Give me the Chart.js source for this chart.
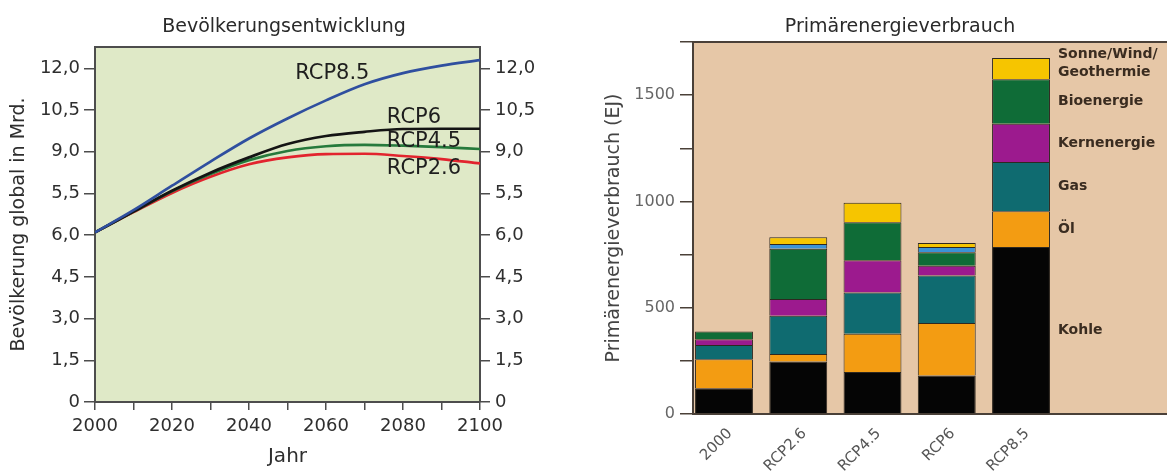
<!DOCTYPE html>
<html>
<head>
<meta charset="utf-8">
<script src="https://cdn.jsdelivr.net/npm/chart.js@4.4.1/dist/chart.umd.min.js"></script>
<style>
  body { margin: 0; background: #fff; width: 1167px; height: 473px; overflow: hidden; position: relative; }
  #popBox { position: absolute; left: 0; top: 0; width: 560px; height: 473px; }
  #energyBox { position: absolute; left: 560px; top: 0; width: 607px; height: 473px; }
</style>
</head>
<body>
<div id="popBox"><canvas id="popChart" width="560" height="473"></canvas></div>
<div id="energyBox"><canvas id="energyChart" width="607" height="473"></canvas></div>
<script>
// Bevölkerung (Mrd.) je Szenario
const years = [2000, 2010, 2020, 2030, 2040, 2050, 2060, 2070, 2080, 2090, 2100];
const rcp85 = [6.1, 6.9, 7.78, 8.65, 9.48, 10.2, 10.85, 11.43, 11.83, 12.1, 12.3];
const rcp6 = [6.1, 6.85, 7.6, 8.25, 8.8, 9.28, 9.57, 9.72, 9.82, 9.83, 9.83];
const rcp45 = [6.1, 6.85, 7.58, 8.2, 8.7, 9.03, 9.2, 9.25, 9.22, 9.17, 9.1];
const rcp26 = [6.1, 6.83, 7.52, 8.1, 8.55, 8.8, 8.92, 8.93, 8.85, 8.74, 8.58];
const popTickLabels = ['0', '1,5', '3,0', '4,5', '6,0', '5,5', '9,0', '10,5', '12,0'];
const curveNames = ['RCP8.5', 'RCP6', 'RCP4.5', 'RCP2.6'];
const curveNameYear = [2052, 2075.8, 2075.8, 2075.8];
const curveNameValue = [11.8, 10.22, 9.37, 8.4];

// Primärenergieverbrauch (EJ)
const scenarios = ['2000', 'RCP2.6', 'RCP4.5', 'RCP6', 'RCP8.5'];
const kohle = [121, 247, 197, 181, 786];
const oel = [137, 35, 180, 247, 168];
const gas = [67, 180, 195, 223, 231];
const kern = [27, 79, 151, 47, 181];
const bio = [36, 236, 179, 63, 209];
const wasser = [null, 23, null, 25, null];
const sonne = [null, 32, 92, 19, 100];
const sourceNames = ['Kohle', 'Öl', 'Gas', 'Kernenergie', 'Bioenergie', 'Wasserkraft', 'Sonne/Wind/Geothermie'];
const sideLabels = [['Kohle'], ['Öl'], ['Gas'], ['Kernenergie'], ['Bioenergie'], [], ['Sonne/Wind/', 'Geothermie']];

Chart.defaults.font.family = "'DejaVu Sans', sans-serif";
Chart.defaults.animation = false;
Chart.defaults.plugins.legend.display = false;
Chart.defaults.plugins.tooltip.enabled = false;

function keepSteps(step) {
  return scale => {
    scale.ticks = scale.ticks.filter(t => Math.abs(t.value / step - Math.round(t.value / step)) < 0.001);
  };
}

function popLabel(v) {
  const i = Math.round(v / 1.5);
  return Math.abs(v - i * 1.5) < 0.01 ? popTickLabels[i] : '';
}

// background, top border line and title
const plotFrame = {
  id: 'plotFrame',
  beforeDraw(chart, args, opts) {
    const { ctx, chartArea: a } = chart;
    const right = opts.toEdge ? chart.width : a.right;
    ctx.save();
    ctx.fillStyle = opts.fill;
    ctx.fillRect(a.left, a.top, right - a.left, a.bottom - a.top);
    ctx.strokeStyle = opts.line;
    ctx.lineWidth = 2;
    ctx.beginPath();
    ctx.moveTo(a.left, a.top);
    ctx.lineTo(right, a.top);
    ctx.stroke();
    ctx.restore();
  },
  afterDraw(chart, args, opts) {
    const ctx = chart.ctx;
    ctx.save();
    ctx.fillStyle = '#2a2a2a';
    ctx.font = "19px 'DejaVu Sans', sans-serif";
    ctx.textAlign = 'center';
    ctx.textBaseline = 'middle';
    ctx.fillText(opts.title, opts.titleX, 27);
    ctx.restore();
  }
};

const curveLabels = {
  id: 'curveLabels',
  afterDatasetsDraw(chart) {
    const { ctx, scales } = chart;
    ctx.save();
    ctx.fillStyle = '#1e1e1e';
    ctx.font = "21px 'DejaVu Sans', sans-serif";
    ctx.textAlign = 'left';
    ctx.textBaseline = 'middle';
    curveNames.forEach((name, i) => {
      ctx.fillText(name, scales.x.getPixelForValue(curveNameYear[i]), scales.y.getPixelForValue(curveNameValue[i]));
    });
    ctx.restore();
  }
};

const sideText = {
  id: 'sideText',
  afterDatasetsDraw(chart) {
    const ctx = chart.ctx;
    ctx.save();
    ctx.fillStyle = '#3a2c20';
    ctx.font = "bold 14px 'DejaVu Sans', sans-serif";
    ctx.textAlign = 'left';
    ctx.textBaseline = 'middle';
    sideLabels.forEach((lines, i) => {
      const bar = chart.getDatasetMeta(i).data[scenarios.length - 1];
      if (!lines.length || !bar || isNaN(bar.y)) return;
      const mid = (bar.y + bar.base) / 2 - (lines.length - 1) * 14;
      lines.forEach((t, k) => ctx.fillText(t, bar.x + bar.width / 2 + 8, mid + k * 18));
    });
    ctx.restore();
  }
};

const toPoints = arr => arr.map((v, i) => ({ x: years[i], y: v }));
const lineStyle = { pointRadius: 0, borderWidth: 2.7, cubicInterpolationMode: 'monotone', fill: false };

new Chart(document.getElementById('popChart'), {
  type: 'line',
  data: {
    datasets: [
      { label: 'RCP8.5', data: toPoints(rcp85), borderColor: '#2f4f9f', ...lineStyle },
      { label: 'RCP6', data: toPoints(rcp6), borderColor: '#141414', ...lineStyle },
      { label: 'RCP4.5', data: toPoints(rcp45), borderColor: '#267a3c', ...lineStyle },
      { label: 'RCP2.6', data: toPoints(rcp26), borderColor: '#e2242e', ...lineStyle }
    ]
  },
  options: {
    responsive: false,
    layout: { padding: { top: 47, left: 0, right: 0, bottom: 0 } },
    scales: {
      x: {
        type: 'linear', min: 2000, max: 2100,
        afterFit: s => { s.height = 71; },
        afterBuildTicks: keepSteps(10),
        ticks: { stepSize: 10, autoSkip: false, maxRotation: 0, color: '#2e2e2e', font: { size: 18 }, padding: 6,
          callback: v => v % 20 === 0 ? String(v) : '' },
        grid: { drawOnChartArea: false, tickLength: 8, color: '#4d4d4d', lineWidth: 1.5 },
        border: { color: '#4d4d4d', width: 2 },
        title: { display: true, text: 'Jahr', color: '#2e2e2e', font: { size: 20 }, padding: { top: 0, bottom: 4 } }
      },
      y: {
        min: 0, max: 12.77,
        afterFit: s => { s.width = 95; },
        afterBuildTicks: keepSteps(1.5),
        ticks: { stepSize: 1.5, autoSkip: false, color: '#2e2e2e', font: { size: 18 }, padding: 4, callback: popLabel },
        grid: { drawOnChartArea: false, tickLength: 11, color: '#4d4d4d', lineWidth: 1.5 },
        border: { color: '#4d4d4d', width: 2 },
        title: { display: true, text: 'Bevölkerung global in Mrd.', color: '#2e2e2e', font: { size: 19 }, padding: { top: 8, bottom: 0 } }
      },
      y2: {
        position: 'right', min: 0, max: 12.77,
        afterFit: s => { s.width = 80; },
        afterBuildTicks: keepSteps(1.5),
        ticks: { stepSize: 1.5, autoSkip: false, color: '#2e2e2e', font: { size: 18 }, padding: 5, callback: popLabel },
        grid: { drawOnChartArea: false, tickLength: 10, color: '#4d4d4d', lineWidth: 1.5 },
        border: { color: '#4d4d4d', width: 2 }
      }
    },
    plugins: {
      plotFrame: { fill: '#dfe9c7', line: '#4d4d4d', toEdge: false, title: 'Bevölkerungsentwicklung', titleX: 284 }
    }
  },
  plugins: [plotFrame, curveLabels]
});

const sourceColors = ['#050505', '#f39c12', '#0f6b70', '#9c1a8e', '#0f6c37', '#3b93d6', '#f6c500'];
const sourceData = [kohle, oel, gas, kern, bio, wasser, sonne];

new Chart(document.getElementById('energyChart'), {
  type: 'bar',
  data: {
    datasets: sourceData.map((vals, i) => ({
      label: sourceNames[i],
      data: vals.map((v, k) => ({ x: k, y: v })),
      backgroundColor: sourceColors[i],
      borderColor: '#2e2820',
      borderWidth: 1,
      barPercentage: 0.78,
      categoryPercentage: 1
    }))
  },
  options: {
    responsive: false,
    layout: { padding: { top: 42, left: 0, right: 0, bottom: 0 } },
    scales: {
      x: {
        type: 'linear', min: -0.4175, max: 5.966, offset: false, stacked: true,
        afterFit: s => { s.height = 59; },
        afterBuildTicks: s => { s.ticks = scenarios.map((_, i) => ({ value: i })); },
        ticks: { autoSkip: false, minRotation: 45, maxRotation: 45, color: '#555', font: { size: 15 }, padding: 3, labelOffset: 6,
          callback: v => scenarios[v] ?? '' },
        grid: { display: false, offset: false },
        border: { color: '#4a4038', width: 2 }
      },
      y: {
        min: 0, max: 1750, stacked: true,
        afterFit: s => { s.width = 133; },
        ticks: { stepSize: 250, autoSkip: false, color: '#666', font: { size: 16 }, padding: 5,
          callback: v => v % 500 === 0 ? String(v) : '' },
        grid: { drawOnChartArea: false, tickLength: 13, color: '#4a4038', lineWidth: 1.5 },
        border: { color: '#4a4038', width: 2 },
        title: { display: true, text: 'Primärenergieverbrauch (EJ)', color: '#444', font: { size: 19 }, padding: { top: 43, bottom: 0 } }
      }
    },
    plugins: {
      plotFrame: { fill: '#e6c7a7', line: '#4a4038', toEdge: true, title: 'Primärenergieverbrauch', titleX: 340 }
    }
  },
  plugins: [plotFrame, sideText]
});
</script>
</body>
</html>
